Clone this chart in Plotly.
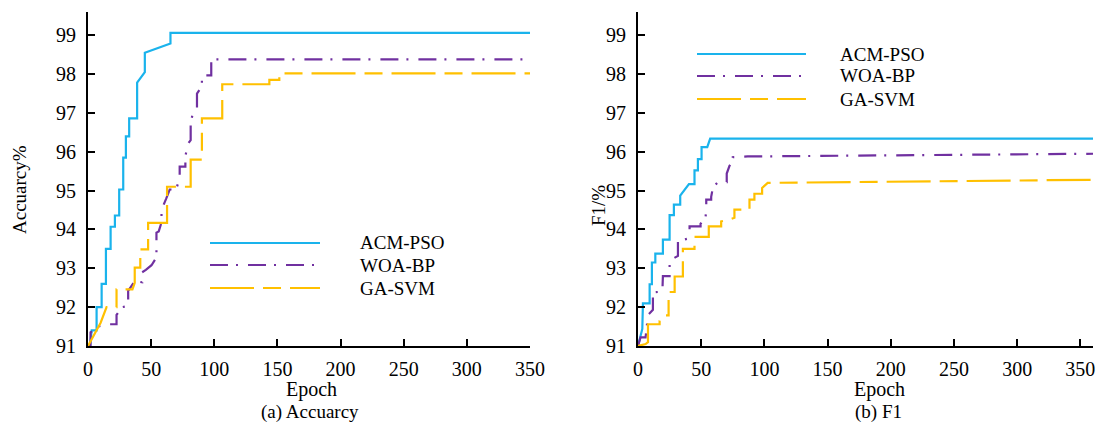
import plotly.graph_objects as go

W, H = 1097, 427

# ---------------- data: (a) Accuracy ----------------
acc_acm_x = [0, 1.6, 2.9, 6.8, 6.8, 10.8, 10.8, 14.2, 14.2, 17.9, 17.9, 21.3, 21.3, 24.7, 24.7,
             27.9, 27.9, 30, 30, 32.6, 32.6, 38.9, 38.9, 45, 45, 65.3, 65.3, 350]
acc_acm_y = [91.0, 91.0, 91.4, 91.4, 92.0, 92.0, 92.6, 92.6, 93.5, 93.5, 94.07, 94.07, 94.36, 94.36, 95.03,
             95.03, 95.85, 95.85, 96.4, 96.4, 96.86, 96.86, 97.78, 98.05, 98.55, 98.79, 99.06, 99.06]

acc_woa_x = [0, 2, 2, 8, 15, 22.6, 22.6, 27, 31.8, 31.8, 37, 42.9, 42.9, 45.8, 50.3, 54.2, 54.2, 56,
             58.2, 58.2, 62, 64.7, 69.8, 72.6, 72.6, 77.1, 77.1, 79, 81.3, 81.3, 83, 86.3, 86.3,
             90.2, 90.2, 97.6, 97.6, 350]
acc_woa_y = [91.0, 91.0, 91.35, 91.5, 91.56, 91.56, 91.8, 92.0, 92.03, 92.42, 92.67, 92.64, 92.9, 92.96,
             93.08, 93.28, 93.92, 93.95, 94.18, 94.51, 94.8, 95.03, 95.03, 95.33, 95.62, 95.62, 95.88,
             96.2, 96.3, 96.73, 97.0, 97.12, 97.5, 97.69, 97.97, 97.97, 98.38, 98.38]

acc_ga_x = [0, 5, 10, 14.7, 22.6, 22.6, 35.2, 37, 37, 41.4, 41.4, 47.6, 47.6, 62.6, 62.6, 81.3, 81.3,
            90.2, 90.2, 106.3, 106.3, 143.6, 143.6, 151.5, 151.5, 350]
acc_ga_y = [91.0, 91.3, 91.6, 92.0, 92.0, 92.46, 92.46, 92.63, 93.02, 93.02, 93.49, 93.49, 94.17, 94.17,
            95.1, 95.1, 95.8, 95.8, 96.86, 96.86, 97.74, 97.74, 97.85, 97.85, 98.02, 98.02]

# ---------------- data: (b) F1 ----------------
f1_acm_x = [0, 3.4, 3.9, 9.2, 9.2, 11, 11, 13.7, 13.7, 19.7, 19.7, 25, 25, 28.4, 28.4, 33.4, 33.4,
            40.3, 44.7, 44.7, 47.4, 47.4, 50.3, 50.3, 54.8, 57.1, 360]
f1_acm_y = [91.0, 91.44, 92.1, 92.1, 92.59, 92.59, 93.15, 93.15, 93.38, 93.38, 93.74, 93.74, 94.37,
            94.37, 94.64, 94.64, 94.87, 95.17, 95.17, 95.52, 95.52, 95.81, 95.81, 96.12, 96.12, 96.34, 96.34]

f1_woa_x = [0, 2, 6, 7.9, 11.8, 11.8, 19.3, 19.7, 25, 25, 31.6, 31.6, 38.7, 40.8, 40.8, 49.5, 49.5,
            53.4, 54, 54, 57.9, 57.9, 59.2, 63.1, 70.2, 70.2, 72.4, 75, 75, 86.8, 360]
f1_woa_y = [91.0, 91.22, 91.22, 91.8, 91.93, 92.38, 92.4, 92.8, 92.8, 93.2, 93.32, 93.7, 93.76, 93.95,
            94.08, 94.08, 94.15, 94.28, 94.56, 94.77, 94.77, 94.84, 95.07, 95.22, 95.22, 95.44, 95.64,
            95.75, 95.86, 95.88, 95.95]

f1_ga_x = [0, 6, 7.9, 7.9, 17.1, 17.1, 20.3, 24.2, 24.2, 29, 29, 35.5, 35.5, 44.7, 44.7, 56, 56,
           65.8, 65.8, 72, 76.3, 76.3, 88.2, 88.2, 92.1, 92.1, 98.2, 98.2, 102.6, 360]
f1_ga_y = [91.0, 91.05, 91.1, 91.56, 91.56, 91.65, 91.79, 91.79, 92.39, 92.39, 92.79, 92.79, 93.5,
           93.5, 93.81, 93.81, 94.08, 94.08, 94.21, 94.25, 94.3, 94.51, 94.51, 94.77, 94.77, 94.92,
           94.92, 95.07, 95.2, 95.28]

series_names = ["ACM-PSO", "WOA-BP", "GA-SVM"]
x_ticks = [0, 50, 100, 150, 200, 250, 300, 350]
y_ticks = [91, 92, 93, 94, 95, 96, 97, 98, 99]

# ---------------- styles ----------------
BLUE, PURPLE, YELLOW = "#1AB3EC", "#7030A0", "#FFC000"
styles = [dict(color=BLUE, width=2.2, dash="solid"),
          dict(color=PURPLE, width=2.2, dash="18px,8px,2px,10px"),
          dict(color=YELLOW, width=2.2, dash="44px,9px,18px,9px")]
FONT = "Liberation Serif, Times New Roman, serif"

fig = go.Figure()
left = [(acc_acm_x, acc_acm_y), (acc_woa_x, acc_woa_y), (acc_ga_x, acc_ga_y)]
right = [(f1_acm_x, f1_acm_y), (f1_woa_x, f1_woa_y), (f1_ga_x, f1_ga_y)]
for i, (xs, ys) in enumerate(left):
    fig.add_trace(go.Scatter(x=xs, y=ys, mode="lines", name=series_names[i], line=styles[i],
                             xaxis="x", yaxis="y", showlegend=False))
for i, (xs, ys) in enumerate(right):
    fig.add_trace(go.Scatter(x=xs, y=ys, mode="lines", name=series_names[i], line=styles[i],
                             xaxis="x2", yaxis="y2", showlegend=False))

def px_x(p):
    return p / W

def px_y(p):
    return 1 - p / H

ydom = [px_y(346), px_y(12)]
axis_common = dict(showgrid=False, zeroline=False, showline=True, linecolor="black", linewidth=2,
                   ticks="inside", ticklen=7, tickwidth=1.5, tickcolor="black", automargin=False,
                   tickfont=dict(family=FONT, size=20, color="black"))

fig.update_layout(
    template="none",
    width=W, height=H, margin=dict(l=0, r=0, t=0, b=0, pad=0, autoexpand=False),
    paper_bgcolor="white", plot_bgcolor="white", showlegend=False,
    xaxis=dict(domain=[px_x(88), px_x(530)], range=[0, 350], tickvals=x_ticks, anchor="y",
               ticklabelstandoff=4, **axis_common),
    yaxis=dict(domain=ydom, range=[91, 99.6], tickvals=y_ticks, anchor="x",
               ticklabelstandoff=6, **axis_common),
    xaxis2=dict(domain=[px_x(638), px_x(1093)], range=[0, 360], tickvals=x_ticks, anchor="y2",
                ticklabelstandoff=4, **axis_common),
    yaxis2=dict(domain=ydom, range=[91, 99.6], tickvals=y_ticks, anchor="x2",
                ticklabelstandoff=6, **axis_common),
)

annotations = []
shapes = []
legend_specs = [((210, 320, 358), [243, 265, 288]), ((697, 806, 838), [54, 76, 99])]
for (x0, x1, xt), rows in legend_specs:
    for i, ry in enumerate(rows):
        shapes.append(dict(type="line", xref="paper", yref="paper", x0=px_x(x0), x1=px_x(x1),
                           y0=px_y(ry), y1=px_y(ry), line=styles[i]))
        annotations.append(dict(xref="paper", yref="paper", x=px_x(xt), y=px_y(ry), text=series_names[i],
                                showarrow=False, xanchor="left", yanchor="middle",
                                font=dict(family=FONT, size=19, color="black")))

titles = [("Accuarcy%", 19, 190, -90, 19), ("F1/%", 598, 206, -90, 19),
          ("Epoch", 311, 389, 0, 20), ("(a) Accuarcy", 310, 412, 0, 19),
          ("Epoch", 879, 389, 0, 20), ("(b) F1", 878, 412, 0, 19)]
for txt, x, y, ang, fs in titles:
    annotations.append(dict(xref="paper", yref="paper", x=px_x(x), y=px_y(y), text=txt, showarrow=False,
                            xanchor="center", yanchor="middle", textangle=ang,
                            font=dict(family=FONT, size=fs, color="black")))

fig.update_layout(annotations=annotations, shapes=shapes)
fig.write_html("out.html")
